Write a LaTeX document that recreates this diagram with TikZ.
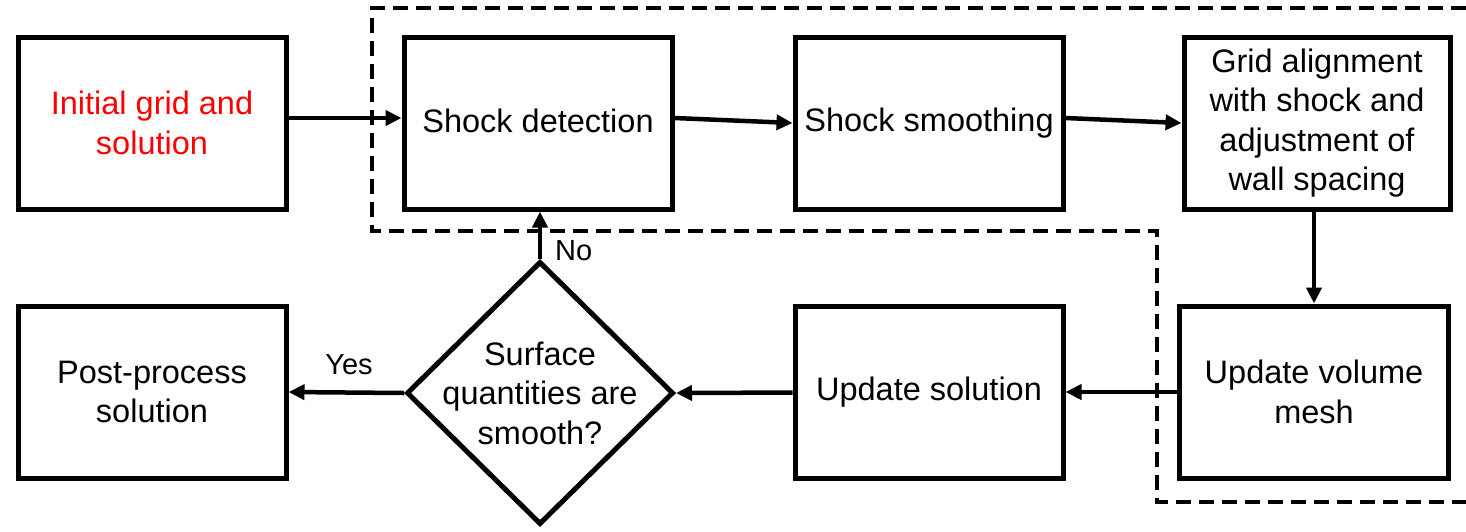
\documentclass[tikz,border=0pt]{standalone}
\usepackage{fontspec}
\setmainfont{Liberation Sans}
\usetikzlibrary{shapes.geometric,arrows.meta}
\begin{document}
\begin{tikzpicture}[x=1pt,y=-1pt,
  stepbox/.style={draw,line width=5pt,minimum width=268pt,minimum height=172pt,
    inner sep=0pt,align=center,font=\fontsize{32.5}{39.5}\selectfont},
  txt/.style={align=center,font=\fontsize{32.5}{39.5}\selectfont},
  lbl/.style={font=\fontsize{29}{34}\selectfont,inner sep=0pt},
  flow/.style={line width=4.5pt,-{Triangle[length=16pt,width=15pt]}},
  frame/.style={line width=4.5pt,dash pattern=on 15pt off 8pt,line join=miter}]
\useasboundingbox (0,0) rectangle (1466,531);
% process boxes
\node[stepbox,text=red] (init) at (152,123) {Initial grid and\\solution};
\node[stepbox] (det) at (538,123) {\raisebox{4pt}{Shock detection}};
\node[stepbox] (smo) at (929,123) {Shock smoothing};
\node[stepbox,minimum width=266pt] (ali) at (1317,123) {Grid alignment\\with shock and\\adjustment of\\wall spacing};
\node[stepbox,minimum width=269pt] (vol) at (1314,392) {Update volume\\mesh};
\node[stepbox] (sol) at (929,392) {Update solution};
\node[stepbox] (post) at (152,392) {Post-process\\solution};
% decision
\node[draw,diamond,line width=5pt,minimum width=267pt,minimum height=263pt,inner sep=0pt] (dec) at (540,393) {};
\node[txt] (dectxt) at (dec.center) {Surface\\quantities are\\smooth?};
% dashed frame around the shock-fitting loop
\coordinate (f1) at (1466,8);
\coordinate (f2) at (372,8);
\coordinate (f3) at (372,231);
\coordinate (f4) at (1157,231);
\coordinate (f5) at (1157,502);
\coordinate (f6) at (1466,502);
\draw[frame] (f1) -- (f2) -- (f3) -- (f4) -- (f5) -- (f6);
% connectors
\draw[flow] ([yshift=5pt]init.east) -- ([yshift=5pt]det.west);
\draw[flow] ([yshift=5pt]det.east) -- (smo.west);
\draw[flow] ([yshift=5pt]smo.east) -- (ali.west);
\draw[flow] (ali.south -| vol.north) -- (vol.north);
\draw[flow] (vol) -- (sol);
\draw[flow] (sol) -- (dec.east);
\draw[flow] (dec.west) -- (post.east);
\draw[flow] (dec.north) -- (det.south -| dec.north);
% branch labels
\node[lbl,anchor=west] (no) at (555,251) {No};
\node[lbl] (yes) at (349,365) {Yes};
\end{tikzpicture}
\end{document}
